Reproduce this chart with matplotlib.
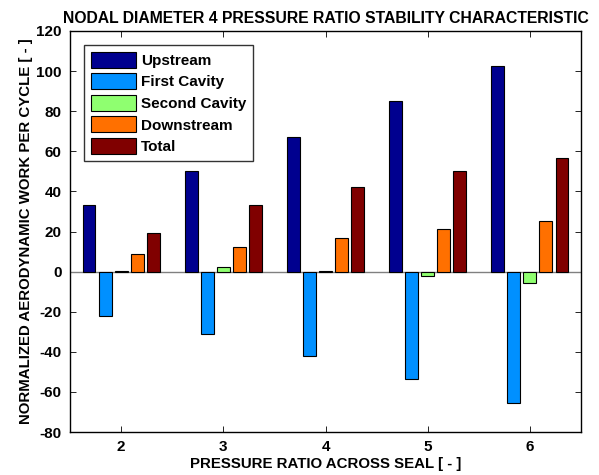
import matplotlib
matplotlib.use("Agg")
import matplotlib.pyplot as plt
import numpy as np

# -------------------------------------------------------------
# Data: normalized aerodynamic work per cycle, nodal diameter 4
# -------------------------------------------------------------
pressure_ratio = [2, 3, 4, 5, 6]
series_names = ["Upstream", "First Cavity", "Second Cavity", "Downstream", "Total"]
upstream = [33.0, 50.0, 67.0, 85.0, 102.5]
first_cavity = [-22.2, -31.2, -42.0, -53.5, -65.5]
second_cavity = [0.2, 2.2, 0.3, -2.3, -5.5]
downstream = [9.0, 12.2, 16.8, 21.3, 25.3]
total = [19.2, 33.2, 42.2, 50.0, 56.8]

# jet-like colours as in the original MATLAB figure
colors = ["#00008F", "#0090FF", "#8FFF70", "#FF7000", "#800000"]

plt.rcParams["font.family"] = ["Liberation Sans", "DejaVu Sans"]
plt.rcParams["font.weight"] = "bold"
plt.rcParams["axes.unicode_minus"] = False

fig = plt.figure(figsize=(5.99, 4.75), dpi=100)
ax = fig.add_axes([70 / 599, 43 / 475, 511 / 599, 401 / 475])

x = np.array(pressure_ratio, dtype=float)
step = 0.157
width = 0.127
all_series = [upstream, first_cavity, second_cavity, downstream, total]
for i, (vals, name, col) in enumerate(zip(all_series, series_names, colors)):
    ax.bar(x + (i - 2) * step, vals, width=width, color=col,
           edgecolor="black", linewidth=0.8, label=name, zorder=3)

ax.axhline(0, color="#808080", linewidth=1.0, zorder=2)

ax.set_xlim(1.5, 6.5)
ax.set_ylim(-80, 120)
ax.set_xticks(pressure_ratio)
ax.set_yticks(np.arange(-80, 121, 20))
ax.tick_params(direction="in", top=True, right=True, labelsize=11,
               length=4, width=0.6, pad=6)
for lbl in ax.get_xticklabels() + ax.get_yticklabels():
    lbl.set_fontweight("bold")
for sp in ax.spines.values():
    sp.set_linewidth(1.0)

ax.set_title("NODAL DIAMETER 4 PRESSURE RATIO STABILITY CHARACTERISTIC",
             fontsize=11.3, fontweight="bold", pad=6)
ax.set_xlabel("PRESSURE RATIO ACROSS SEAL [ - ]", fontsize=10.8,
              fontweight="bold", labelpad=2)
ax.set_ylabel("NORMALIZED AERODYNAMIC WORK PER CYCLE [ - ]", fontsize=10.8,
              fontweight="bold", labelpad=2)

leg = ax.legend(loc="upper left", fontsize=11, frameon=True, fancybox=False,
                edgecolor="black", handlelength=3.0, handleheight=1.25,
                handletextpad=0.3, labelspacing=0.35, borderpad=0.45,
                borderaxespad=0.9)
leg.get_frame().set_linewidth(1.0)
for t in leg.get_texts():
    t.set_fontweight("bold")

fig.savefig("out.png", dpi=100)
